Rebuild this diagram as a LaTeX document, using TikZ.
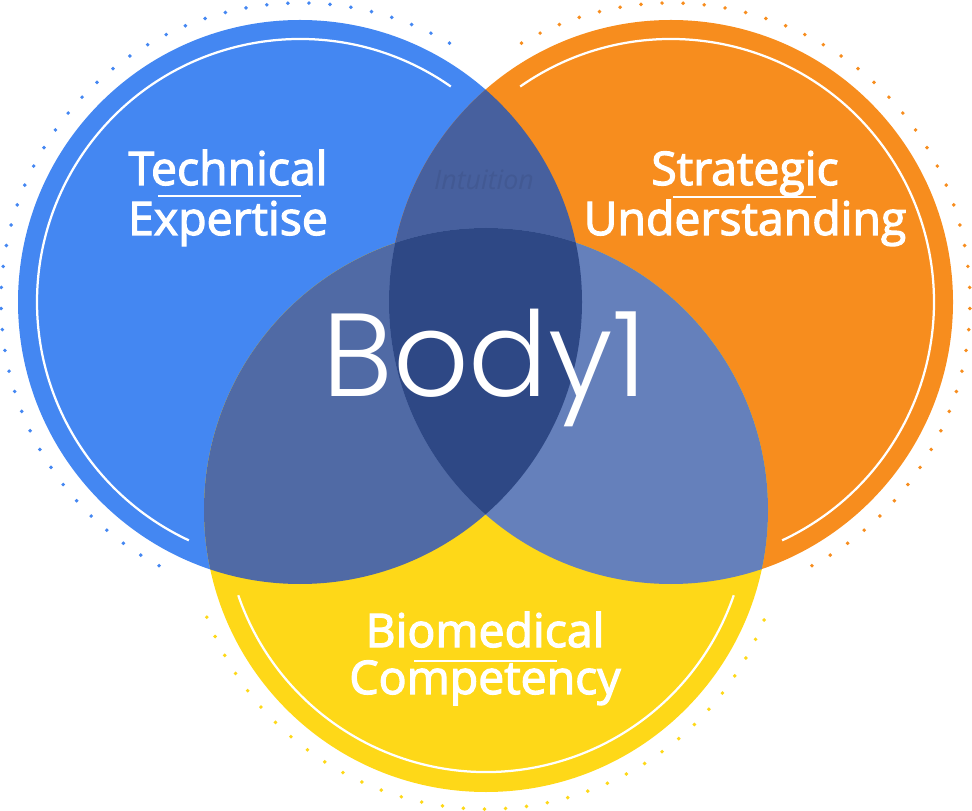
\documentclass[tikz,border=0pt]{standalone}
\usepackage{fontspec}
\setmainfont{Open Sans}
\newfontfamily\skillfont{Open Sans}[FakeBold=2.6]
\newfontfamily\bodyfont{Poppins Light}
\usetikzlibrary{calc,positioning}
\definecolor{techblue}{HTML}{4487F2}
\definecolor{stratorange}{HTML}{F78D1E}
\definecolor{bioyellow}{HTML}{FED818}
\definecolor{lensBO}{HTML}{47609E}
\definecolor{lensBY}{HTML}{506AA5}
\definecolor{lensOY}{HTML}{6580BB}
\definecolor{lensall}{HTML}{2E4885}
\tikzset{
  skill/.style={text=white, font=\skillfont\fontsize{33}{33}\selectfont, inner sep=0pt, anchor=base},
  ring/.style={white, line width=1.6pt},
  dots/.style={line width=2.8pt, line cap=round, dash pattern=on 0pt off 15pt},
  divider/.style={white, line width=1.3pt}
}
\newcommand{\rad}{282}
\begin{document}
\begin{tikzpicture}[x=0.025cm,y=0.025cm]
  \useasboundingbox (0,0) rectangle (972,810);
  \coordinate (tech) at (300,508);
  \coordinate (strat) at (671,508);
  \coordinate (bio) at (486,300);

  \fill[techblue] (tech) circle[radius=\rad];
  \fill[stratorange] (strat) circle[radius=\rad];
  \fill[bioyellow] (bio) circle[radius=\rad];
  \begin{scope}
    \clip (tech) circle[radius=\rad];
    \fill[lensBO] (strat) circle[radius=\rad];
    \fill[lensBY] (bio) circle[radius=\rad];
  \end{scope}
  \begin{scope}
    \clip (strat) circle[radius=\rad];
    \fill[lensOY] (bio) circle[radius=\rad];
  \end{scope}
  \begin{scope}
    \clip (tech) circle[radius=\rad];
    \clip (strat) circle[radius=\rad];
    \fill[lensall] (bio) circle[radius=\rad];
  \end{scope}

  \draw[ring] ([shift={(55:263)}]tech) arc[start angle=55, end angle=245, radius=263];
  \draw[ring] ([shift={(125:263)}]strat) arc[start angle=125, end angle=-65, radius=263];
  \draw[ring] ([shift={(199:262)}]bio) arc[start angle=199, end angle=341, radius=262];

  \draw[dots, techblue] ([shift={(60:299)}]tech) arc[start angle=60, end angle=243, radius=299];
  \draw[dots, stratorange] ([shift={(120:299)}]strat) arc[start angle=120, end angle=-63, radius=299];
  \draw[dots, bioyellow] ([shift={(201:299)}]bio) arc[start angle=201, end angle=339, radius=299];

  \node[anchor=base, inner sep=0pt, text=lensBO!93!black, font=\itshape\fontsize{19}{19}\selectfont] (intuition) at (484,620) {Intuition};

  \node[skill] (technical) at (228,625) {Technical};
  \node[skill] (expertise) at (228,575) {Expertise};
  \draw[divider] ([shift={(-70,-11)}]technical.base) -- ++(143,0);

  \node[skill] (strategic) at (745,625) {Strategic};
  \node[skill] (understanding) at (745,575) {Understanding};
  \draw[divider] ([shift={(-72,-12)}]strategic.base) -- ++(143,0);

  \node[skill] (biomedical) at (485,163) {Biomedical};
  \node[skill] (competency) at (485,116) {Competency};
  \draw[divider] ([shift={(-71,-14)}]biomedical.base) -- ++(143,0);

  \node[anchor=base, inner sep=0pt, text=white, font=\bodyfont\fontsize{84}{84}\selectfont] (body) at (485,413) {Body1};
\end{tikzpicture}
\end{document}
